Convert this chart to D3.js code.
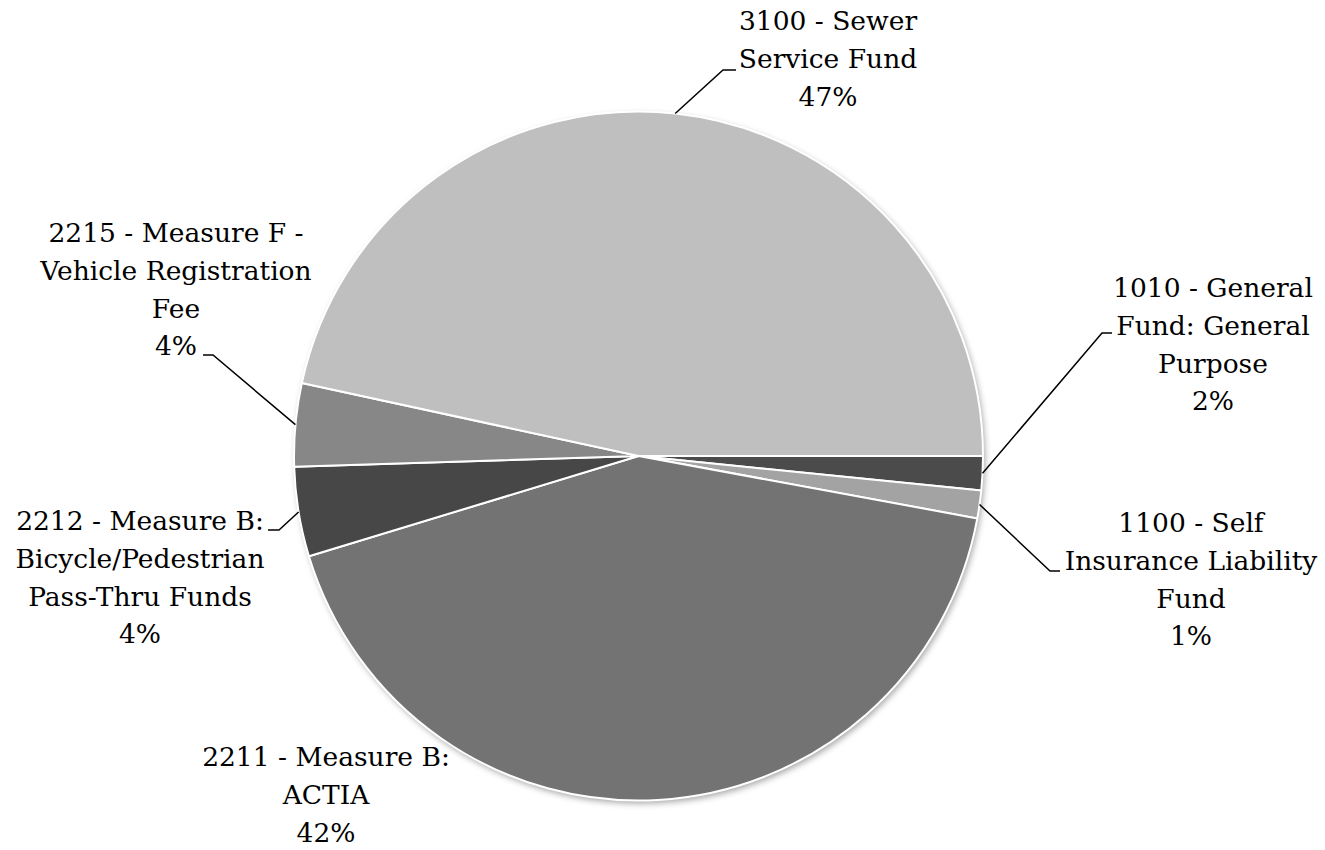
<!DOCTYPE html>
<html>
<head>
<meta charset="utf-8">
<script src="https://cdn.jsdelivr.net/npm/d3@7"></script>
<style>
  html, body { margin: 0; padding: 0; background: #ffffff; }
  svg { display: block; }
  text { font-family: "DejaVu Serif", serif; fill: #000; }
</style>
</head>
<body>
<svg id="chart" width="1325" height="850"></svg>
<script>
// ---- data ----
const categories = [
  "1010 - General Fund: General Purpose",
  "1100 - Self Insurance Liability Fund",
  "2211 - Measure B: ACTIA",
  "2212 - Measure B: Bicycle/Pedestrian Pass-Thru Funds",
  "2215 - Measure F - Vehicle Registration Fee",
  "3100 - Sewer Service Fund"
];
const values = [1.6, 1.3, 42.4, 4.2, 3.9, 46.6];
const labelLines = [
  ["1010 - General", "Fund: General", "Purpose"],
  ["1100 - Self", "Insurance Liability", "Fund"],
  ["2211 - Measure B:", "ACTIA"],
  ["2212 - Measure B:", "Bicycle/Pedestrian", "Pass-Thru Funds"],
  ["2215 - Measure F -", "Vehicle Registration", "Fee"],
  ["3100 - Sewer", "Service Fund"]
];
const colors = ["#4b4b4b", "#a3a3a3", "#737373", "#474747", "#878787", "#bfbfbf"];

// ---- layout (not data) ----
const cx = 638.5, cy = 456, R = 344.5;
const fontSize = 26.5, lineH = 37.8;
// label block: center x, first baseline y; leader elbow & end
const labelLayout = [
  { x: 1213, y: 297, elbow: [1102, 333], end: [1112, 333] },
  { x: 1191, y: 532, elbow: [1050, 571], end: [1060, 571] },
  { x: 326,  y: 766, elbow: null, end: null },
  { x: 140,  y: 530, elbow: [279, 530], end: [268, 530] },
  { x: 176,  y: 242, elbow: [213, 355], end: [203, 355] },
  { x: 828,  y: 30,  elbow: [723, 70],  end: [736, 70] }
];

const svg = d3.select("#chart");
const defs = svg.append("defs");
const f = defs.append("filter").attr("id", "shadow")
  .attr("x", "-10%").attr("y", "-10%").attr("width", "120%").attr("height", "120%");
f.append("feDropShadow").attr("dx", 2).attr("dy", 3).attr("stdDeviation", 3)
  .attr("flood-color", "#000").attr("flood-opacity", 0.35);

const total = d3.sum(values);
const pct = d3.format(".0%");

const pie = d3.pie().sort(null).value(d => d)
  .startAngle(Math.PI / 2).endAngle(Math.PI / 2 + 2 * Math.PI);
const arcs = pie(values);
const arc = d3.arc().innerRadius(0).outerRadius(R);

const g = svg.append("g").attr("transform", `translate(${cx},${cy})`);
g.append("circle").attr("r", R).attr("fill", "#bfbfbf").attr("filter", "url(#shadow)");
g.selectAll("path.slice").data(arcs).join("path")
  .attr("class", "slice")
  .attr("d", arc)
  .attr("fill", (d, i) => colors[i])
  .attr("stroke", "#ffffff")
  .attr("stroke-width", 2)
  .attr("stroke-linejoin", "round");

// leader lines
arcs.forEach((d, i) => {
  const L = labelLayout[i];
  if (!L.elbow) return;
  const a = (d.startAngle + d.endAngle) / 2 - Math.PI / 2;
  const sx = cx + R * Math.cos(a), sy = cy + R * Math.sin(a);
  svg.append("polyline")
    .attr("points", [[sx, sy], L.elbow, L.end].map(p => p.join(",")).join(" "))
    .attr("fill", "none").attr("stroke", "#000").attr("stroke-width", 1.5);
});

// labels
arcs.forEach((d, i) => {
  const L = labelLayout[i];
  const lines = labelLines[i].concat([pct(values[i] / total)]);
  const t = svg.append("text")
    .attr("text-anchor", "middle")
    .attr("font-size", fontSize);
  lines.forEach((s, k) => {
    t.append("tspan").attr("x", L.x).attr("y", L.y + k * lineH).text(s);
  });
});
</script>
</body>
</html>
